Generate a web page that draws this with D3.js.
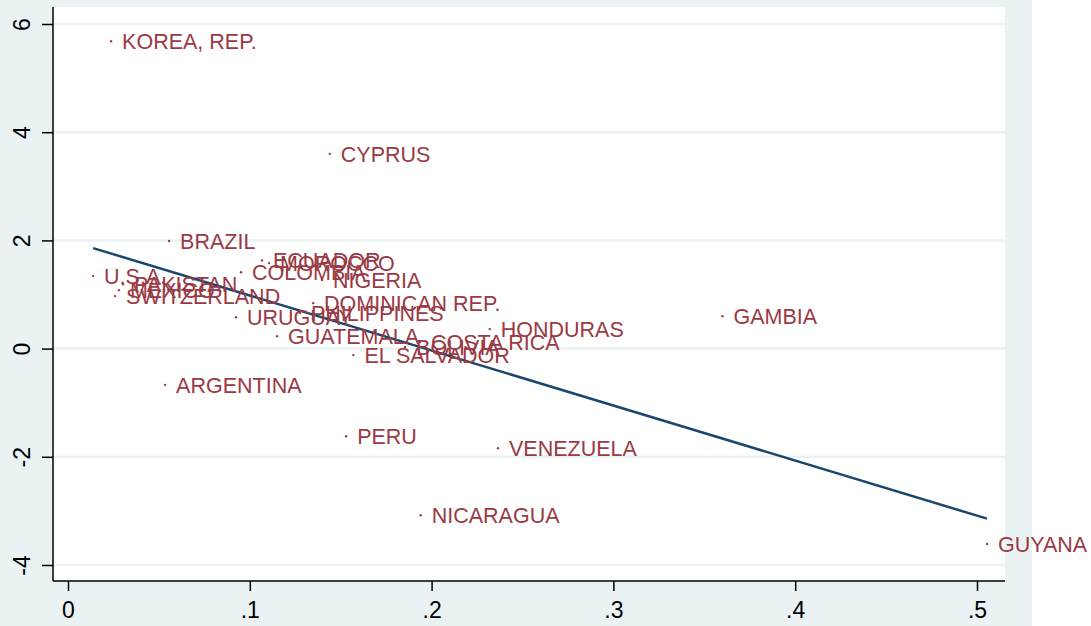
<!DOCTYPE html>
<html lang="en">
<head>
<meta charset="UTF-8">
<title>Scatter with labels</title>
<script src="https://d3js.org/d3.v7.min.js"></script>
<style>
  body { margin: 0; background: #fff; }
  text { font-family: "Liberation Sans", Arial, sans-serif; }
</style>
</head>
<body>
<svg id="chart" width="1091" height="626"></svg>
<script>
// country labels, x values, y values
const countries = ["KOREA, REP.", "CYPRUS", "BRAZIL", "ECUADOR", "MOROCCO", "COLOMBIA", "NIGERIA",
  "U.S.A.", "PAKISTAN", "MEXICO", "SWITZERLAND", "DOMINICAN REP.", "PHILIPPINES", "URUGUAY",
  "GUATEMALA", "COSTA RICA", "BOLIVIA", "EL SALVADOR", "HONDURAS", "GAMBIA", "ARGENTINA",
  "PERU", "VENEZUELA", "NICARAGUA", "GUYANA"];
const xVals = [0.0237, 0.144, 0.0556, 0.1067, 0.1106, 0.0952, 0.1397,
  0.0138, 0.0303, 0.028, 0.0259, 0.1348, 0.1276, 0.0924,
  0.115, 0.1936, 0.1854, 0.157, 0.232, 0.360, 0.0534,
  0.153, 0.2365, 0.194, 0.5055];
const yVals = [5.68, 3.60, 1.99, 1.63, 1.58, 1.41, 1.27,
  1.34, 1.19, 1.08, 0.97, 0.84, 0.66, 0.58,
  0.23, 0.12, 0.03, -0.12, 0.36, 0.60, -0.67,
  -1.62, -1.84, -3.08, -3.61];
const xTicks = [0, 0.1, 0.2, 0.3, 0.4, 0.5];
const xTickLabels = ["0", ".1", ".2", ".3", ".4", ".5"];
const yTicks = [-4, -2, 0, 2, 4, 6];
const yTickLabels = ["-4", "-2", "0", "2", "4", "6"];

const svg = d3.select("#chart");
const labelColor = "#9a3a44";
const lineColor = "#1a476f";
const bg = "#eaf2f3";

// graph region and plot region
svg.append("rect").attr("x", 0).attr("y", 0).attr("width", 1032).attr("height", 626).attr("fill", bg);
const plot = { left: 53, right: 1005, top: 7, bottom: 581 };
svg.append("rect")
  .attr("x", plot.left).attr("y", plot.top)
  .attr("width", plot.right - plot.left).attr("height", plot.bottom - plot.top)
  .attr("fill", "#fff");

const x = d3.scaleLinear().domain([0, 0.5]).range([68, 977]);
const y = d3.scaleLinear().domain([-4, 6]).range([565, 24]);

// grid lines
svg.append("g").selectAll("line").data(yTicks).join("line")
  .attr("x1", plot.left).attr("x2", plot.right)
  .attr("y1", d => y(d)).attr("y2", d => y(d))
  .attr("stroke", bg).attr("stroke-width", 2.5);

// axes
const yAxis = svg.append("g")
  .attr("transform", `translate(${plot.left},0)`)
  .call(d3.axisLeft(y).tickValues(yTicks).tickSize(11).tickFormat((d, i) => yTickLabels[i]));
yAxis.select(".domain").attr("d", `M0,${plot.top}V${plot.bottom}`);
yAxis.selectAll(".tick text")
  .attr("x", null).attr("dy", null)
  .attr("transform", "translate(-31,0) rotate(-90)")
  .attr("text-anchor", "middle").attr("dominant-baseline", "central");

const xAxis = svg.append("g")
  .attr("transform", `translate(0,${plot.bottom})`)
  .call(d3.axisBottom(x).tickValues(xTicks).tickSize(10).tickPadding(11)
    .tickFormat((d, i) => xTickLabels[i]));
xAxis.select(".domain").attr("d", `M${plot.left},0H${plot.right}`);

svg.selectAll(".domain, .tick line").attr("stroke", "#000").attr("stroke-width", 1.5);
svg.selectAll(".tick text").attr("fill", "#000").style("font-size", "23px");

// linear fit over the data range
const pts = countries.map((c, i) => ({ name: c, x: xVals[i], y: yVals[i] }));
const mx = d3.mean(xVals), my = d3.mean(yVals);
const b = d3.sum(pts, p => (p.x - mx) * (p.y - my)) / d3.sum(pts, p => (p.x - mx) ** 2);
const a = my - b * mx;
const [x0, x1] = d3.extent(xVals);
svg.append("path")
  .datum([x0, x1])
  .attr("d", d3.line().x(d => x(d)).y(d => y(a + b * d)))
  .attr("fill", "none").attr("stroke", lineColor).attr("stroke-width", 2.5);

// points and labels
const g = svg.append("g");
g.selectAll("circle").data(pts).join("circle")
  .attr("cx", d => x(d.x)).attr("cy", d => y(d.y)).attr("r", 1.2)
  .attr("fill", labelColor);
g.selectAll("text").data(pts).join("text")
  .attr("x", d => x(d.x) + 11).attr("y", d => y(d.y) + 1)
  .attr("dominant-baseline", "central")
  .attr("fill", labelColor).style("font-size", "21.5px")
  .text(d => d.name);
</script>
</body>
</html>
